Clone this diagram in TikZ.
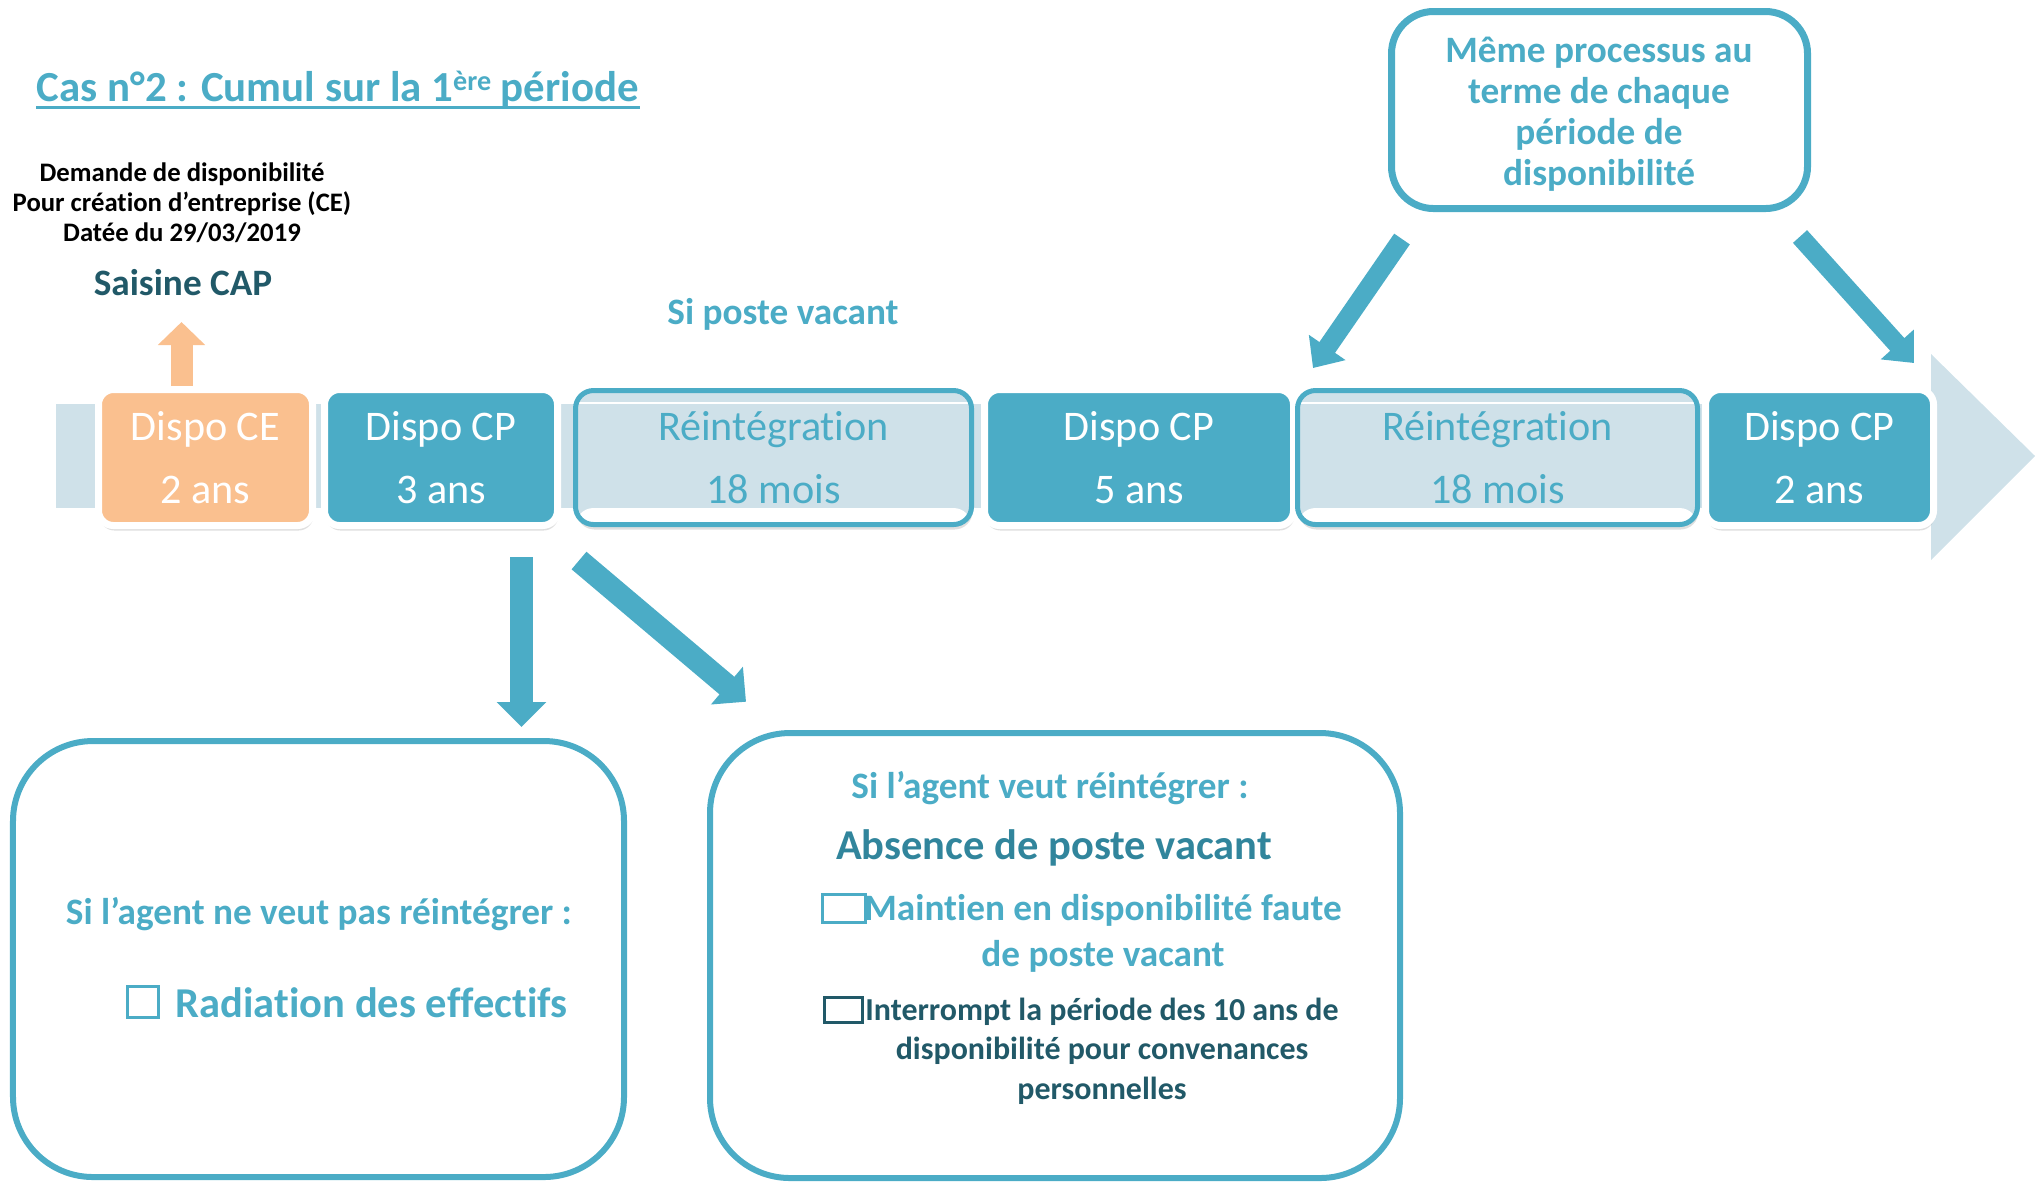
\documentclass[tikz,border=0pt]{standalone}
\usepackage{fontspec}
\setmainfont[Ligatures=NoCommon]{Carlito}
\usetikzlibrary{arrows.meta,positioning,shadows}

\definecolor{aqua}{RGB}{75,172,198}
\definecolor{aquafonce}{RGB}{49,133,156}
\definecolor{aquasombre}{RGB}{33,89,104}
\definecolor{bandeau}{RGB}{207,225,233}
\definecolor{orangeclair}{RGB}{250,192,143}

\begin{document}
\begin{tikzpicture}[
		dispo/.style={fill=aqua,draw=white,line width=0.07cm,rounded corners=0.15cm,
			minimum height=1.36cm,inner sep=0pt,align=center,text=white,
			font=\fontsize{12}{17.9}\selectfont,
			drop shadow={opacity=0.25,shadow xshift=0.01cm,shadow yshift=-0.05cm}},
		reint/.style={fill=bandeau,draw=aqua,line width=0.05cm,rounded corners=0.18cm,
			minimum height=1.34cm,inner sep=0pt,align=center,text=aqua,
			font=\fontsize{12}{17.9}\selectfont,
			drop shadow={opacity=0.25,shadow xshift=0.01cm,shadow yshift=-0.05cm},
			path picture={
				\fill[white] (path picture bounding box.south west) rectangle
				([yshift=0.165cm]path picture bounding box.south east);
				\draw[white,line width=0.02cm] ([yshift=-0.125cm]path picture bounding box.north west)
				-- ([yshift=-0.125cm]path picture bounding box.north east);}},
		cadre/.style={draw=aqua,line width=0.06cm,rounded corners=0.8cm,inner sep=0pt},
		coche/.style={draw=aqua,line width=0.03cm,inner sep=0pt},
		libelle/.style={text=aqua,inner sep=0pt,align=center,
			font=\bfseries\fontsize{10.6}{12.7}\selectfont},
		fleche/.style={aqua,line width=0.23cm,-{Triangle[width=0.48cm,length=0.25cm]}}]
	
	\useasboundingbox (0,0) rectangle (20.42,-11.82);
	
	% titre et demande
	\node[libelle,anchor=base west,font=\bfseries\fontsize{12.2}{14}\selectfont] (titre) at (0.36,-1.01)
	{Cas n°2 : Cumul sur la 1{\fontsize{8}{9}\selectfont\raisebox{0.75ex}{ère}} période};
	\draw[aqua,line width=0.03cm] ([yshift=-0.065cm]titre.base west) -- ([yshift=-0.065cm]titre.base east);
	\node[align=center,inner sep=0pt,font=\bfseries\fontsize{7.6}{8.5}\selectfont] (demande) at (1.82,-2.03)
	{Demande de disponibilité\\Pour création d’entreprise (CE)\\Datée du 29/03/2019};
	\node[libelle,text=aquasombre] (saisine) at (1.83,-2.83) {Saisine CAP};
	\node[libelle] (vacant) at (7.83,-3.14) {Si poste vacant};
	
	% frise
	\fill[bandeau] (0.56,-4.04) rectangle (19.34,-5.08);
	\fill[bandeau] (19.31,-3.54) -- (20.35,-4.56) -- (19.31,-5.60) -- cycle;
	
	\node[dispo,fill=orangeclair,minimum width=2.14cm] (ce) at (2.055,-4.575) {Dispo CE\\2 ans};
	\node[dispo,minimum width=2.33cm] (cp1) at (4.41,-4.575) {Dispo CP\\3 ans};
	\node[reint,minimum width=3.96cm] (r1) at (7.735,-4.575) {Réintégration\\18 mois};
	\node[dispo,minimum width=3.09cm] (cp2) at (11.39,-4.575) {Dispo CP\\5 ans};
	\node[reint,minimum width=4.00cm] (r2) at (14.975,-4.575) {Réintégration\\18 mois};
	\node[dispo,minimum width=2.28cm] (cp3) at (18.195,-4.575) {Dispo CP\\2 ans};
	
	% cadre du haut
	\node[cadre,line width=0.07cm,rounded corners=0.42cm,minimum width=4.16cm,minimum height=1.97cm] (meme) at (15.995,-1.10) {};
	\node[libelle,font=\bfseries\fontsize{10.6}{11.7}\selectfont] (memetxt) at (15.99,-1.145)
	{Même processus au\\terme de chaque\\période de\\disponibilité};
	
	% cadres du bas
	\node[cadre,minimum width=6.11cm,minimum height=4.36cm] (gauche) at (3.185,-9.59) {};
	\node[libelle] (nonreint) at (3.19,-9.14) {Si l’agent ne veut pas réintégrer :};
	\node[coche,minimum width=0.31cm,minimum height=0.31cm] (c1) at (1.425,-10.015) {};
	\node[libelle,anchor=west,font=\bfseries\fontsize{12.1}{14}\selectfont] (radiation) at (1.75,-10.03) {Radiation des effectifs};
	
	\node[cadre,minimum width=6.90cm,minimum height=4.45cm] (droite) at (10.55,-9.555) {};
	\node[libelle] (veut) at (10.50,-7.88) {Si l’agent veut réintégrer :};
	\node[libelle,text=aquafonce,font=\bfseries\fontsize{12.1}{14}\selectfont] (absence) at (10.54,-8.48) {Absence de poste vacant};
	\node[coche,minimum width=0.43cm,minimum height=0.28cm] (c2) at (8.435,-9.08) {};
	\node[libelle,font=\bfseries\fontsize{10.6}{13.1}\selectfont] (maintien) at (11.03,-9.33)
	{Maintien en disponibilité faute\\de poste vacant};
	\node[coche,draw=aquasombre,minimum width=0.38cm,minimum height=0.25cm] (c3) at (8.43,-10.095) {};
	\node[libelle,text=aquasombre,font=\bfseries\fontsize{9.1}{11.2}\selectfont] (interrompt) at (11.02,-10.51)
	{Interrompt la période des 10 ans de\\disponibilité pour convenances\\personnelles};
	
	% fleches
	\coordinate (ceHaut) at (1.815,-3.22);
	\draw[fleche,orangeclair,line width=0.22cm,-{Triangle[width=0.46cm,length=0.23cm]}] (ce.north -| ceHaut) -- (ceHaut);
	\coordinate (basDep) at (5.215,-5.57);
	\coordinate (basArr) at (5.215,-7.27);
	\draw[fleche] (basDep) -- (basArr);
	\coordinate (diagDep) at (5.79,-5.605);
	\coordinate (diagArr) at (7.46,-7.017);
	\draw[fleche] (diagDep) -- (diagArr);
	\coordinate (memeG) at (14.02,-2.39);
	\coordinate (r2Haut) at (13.13,-3.68);
	\draw[fleche,line width=0.19cm,-{Triangle[width=0.43cm,length=0.25cm]}] (memeG) -- (r2Haut);
	\coordinate (memeD) at (18.00,-2.365);
	\coordinate (cp3Haut) at (19.14,-3.63);
	\draw[fleche,line width=0.19cm,-{Triangle[width=0.43cm,length=0.25cm]}] (memeD) -- (cp3Haut);
	
\end{tikzpicture}
\end{document}
